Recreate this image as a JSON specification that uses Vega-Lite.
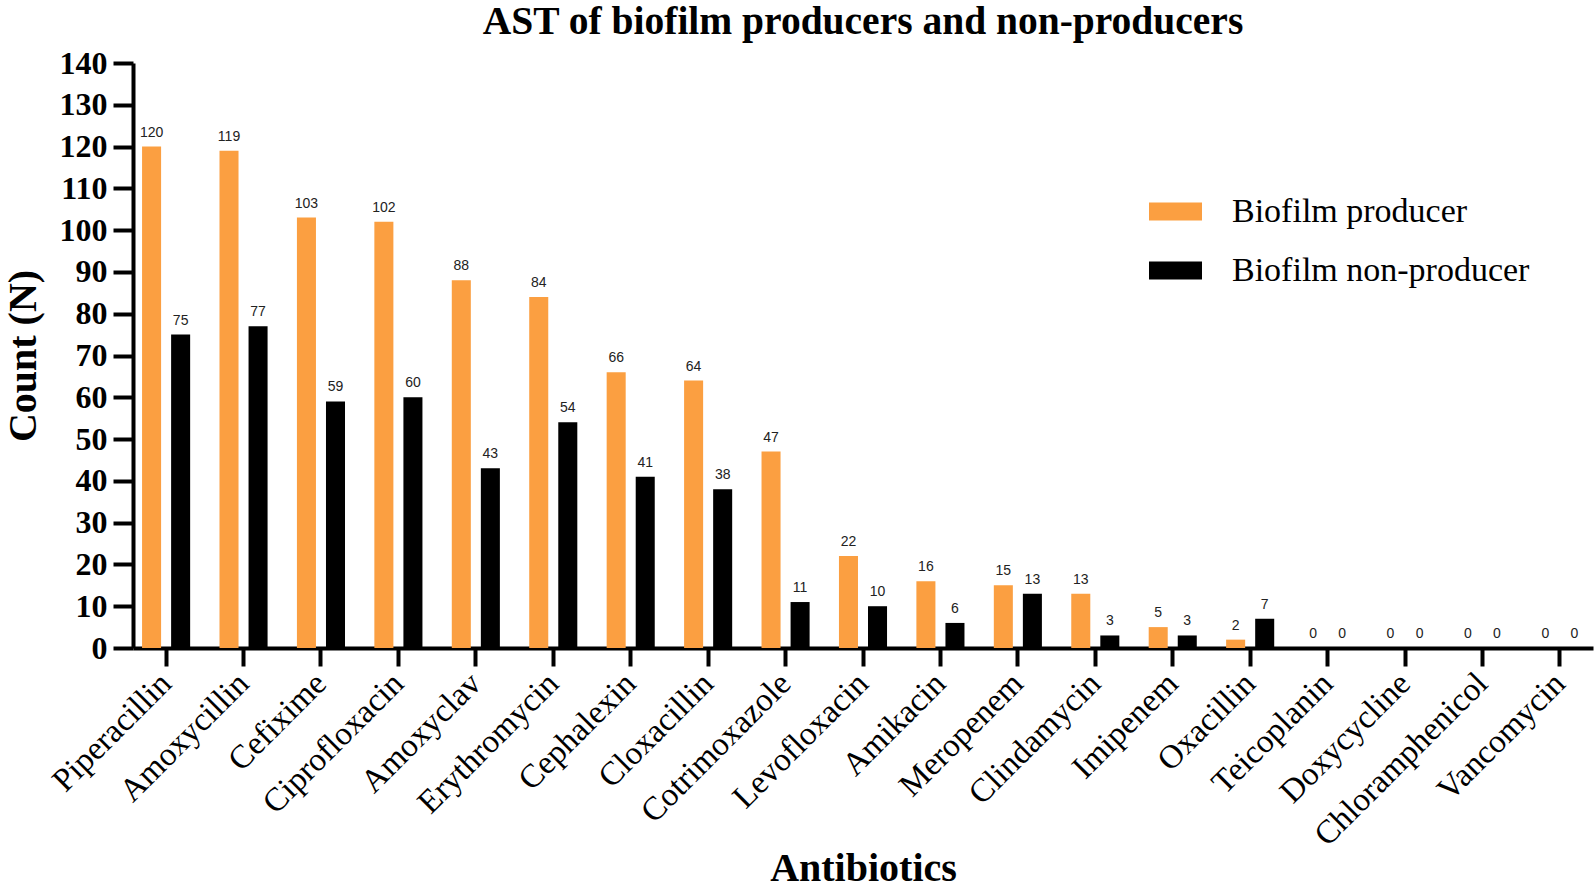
{
  "$schema": "https://vega.github.io/schema/vega-lite/v6.json",
  "width": 1460,
  "height": 585,
  "autosize": {"type": "none"},
  "padding": {"left": 133, "top": 63, "right": 1, "bottom": 240},
  "background": "white",
  "title": {
    "text": "AST of biofilm producers and non-producers",
    "font": "Liberation Serif",
    "fontSize": 39.5,
    "fontWeight": "bold",
    "color": "black",
    "anchor": "middle",
    "offset": 5
  },
  "config": {"view": {"stroke": null}},
  "data": {
    "values": [
      {"Antibiotic": "Piperacillin", "Group": "Biofilm producer", "Count": 120},
      {"Antibiotic": "Piperacillin", "Group": "Biofilm non-producer", "Count": 75},
      {"Antibiotic": "Amoxycillin", "Group": "Biofilm producer", "Count": 119},
      {"Antibiotic": "Amoxycillin", "Group": "Biofilm non-producer", "Count": 77},
      {"Antibiotic": "Cefixime", "Group": "Biofilm producer", "Count": 103},
      {"Antibiotic": "Cefixime", "Group": "Biofilm non-producer", "Count": 59},
      {"Antibiotic": "Ciprofloxacin", "Group": "Biofilm producer", "Count": 102},
      {"Antibiotic": "Ciprofloxacin", "Group": "Biofilm non-producer", "Count": 60},
      {"Antibiotic": "Amoxyclav", "Group": "Biofilm producer", "Count": 88},
      {"Antibiotic": "Amoxyclav", "Group": "Biofilm non-producer", "Count": 43},
      {"Antibiotic": "Erythromycin", "Group": "Biofilm producer", "Count": 84},
      {"Antibiotic": "Erythromycin", "Group": "Biofilm non-producer", "Count": 54},
      {"Antibiotic": "Cephalexin", "Group": "Biofilm producer", "Count": 66},
      {"Antibiotic": "Cephalexin", "Group": "Biofilm non-producer", "Count": 41},
      {"Antibiotic": "Cloxacillin", "Group": "Biofilm producer", "Count": 64},
      {"Antibiotic": "Cloxacillin", "Group": "Biofilm non-producer", "Count": 38},
      {"Antibiotic": "Cotrimoxazole", "Group": "Biofilm producer", "Count": 47},
      {"Antibiotic": "Cotrimoxazole", "Group": "Biofilm non-producer", "Count": 11},
      {"Antibiotic": "Levofloxacin", "Group": "Biofilm producer", "Count": 22},
      {"Antibiotic": "Levofloxacin", "Group": "Biofilm non-producer", "Count": 10},
      {"Antibiotic": "Amikacin", "Group": "Biofilm producer", "Count": 16},
      {"Antibiotic": "Amikacin", "Group": "Biofilm non-producer", "Count": 6},
      {"Antibiotic": "Meropenem", "Group": "Biofilm producer", "Count": 15},
      {"Antibiotic": "Meropenem", "Group": "Biofilm non-producer", "Count": 13},
      {"Antibiotic": "Clindamycin", "Group": "Biofilm producer", "Count": 13},
      {"Antibiotic": "Clindamycin", "Group": "Biofilm non-producer", "Count": 3},
      {"Antibiotic": "Imipenem", "Group": "Biofilm producer", "Count": 5},
      {"Antibiotic": "Imipenem", "Group": "Biofilm non-producer", "Count": 3},
      {"Antibiotic": "Oxacillin", "Group": "Biofilm producer", "Count": 2},
      {"Antibiotic": "Oxacillin", "Group": "Biofilm non-producer", "Count": 7},
      {"Antibiotic": "Teicoplanin", "Group": "Biofilm producer", "Count": 0},
      {"Antibiotic": "Teicoplanin", "Group": "Biofilm non-producer", "Count": 0},
      {"Antibiotic": "Doxycycline", "Group": "Biofilm producer", "Count": 0},
      {"Antibiotic": "Doxycycline", "Group": "Biofilm non-producer", "Count": 0},
      {"Antibiotic": "Chloramphenicol", "Group": "Biofilm producer", "Count": 0},
      {"Antibiotic": "Chloramphenicol", "Group": "Biofilm non-producer", "Count": 0},
      {"Antibiotic": "Vancomycin", "Group": "Biofilm producer", "Count": 0},
      {"Antibiotic": "Vancomycin", "Group": "Biofilm non-producer", "Count": 0}
    ]
  },
  "encoding": {
    "x": {
      "field": "Antibiotic",
      "type": "nominal",
      "sort": null,
      "scale": {"paddingInner": 0.379, "paddingOuter": 0.117},
      "axis": {
        "title": "Antibiotics",
        "titleFont": "Liberation Serif",
        "titleFontSize": 40,
        "titleFontWeight": "bold",
        "titleColor": "black",
        "titleBaseline": "alphabetic",
        "titleY": 232,
        "labelFont": "Liberation Serif",
        "labelFontSize": 33,
        "labelColor": "black",
        "labelAngle": -45,
        "labelAlign": "right",
        "labelBaseline": "middle",
        "labelPadding": 12,
        "labelOverlap": false,
        "labelLimit": 0,
        "domainColor": "black",
        "domainWidth": 4,
        "tickColor": "black",
        "tickWidth": 4,
        "tickSize": 18,
        "grid": false
      }
    },
    "xOffset": {
      "field": "Group",
      "type": "nominal",
      "sort": ["Biofilm producer", "Biofilm non-producer"],
      "scale": {"paddingInner": 0.345, "paddingOuter": 0}
    },
    "y": {
      "field": "Count",
      "type": "quantitative",
      "scale": {"domain": [0, 140], "nice": false},
      "axis": {
        "title": "Count (N)",
        "titleFont": "Liberation Serif",
        "titleFontSize": 40,
        "titleFontWeight": "bold",
        "titleColor": "black",
        "titleX": -110,
        "titleBaseline": "middle",
        "values": [0, 10, 20, 30, 40, 50, 60, 70, 80, 90, 100, 110, 120, 130, 140],
        "labelFont": "Liberation Serif",
        "labelFontSize": 32,
        "labelFontWeight": "bold",
        "labelColor": "black",
        "labelPadding": 6,
        "domainColor": "black",
        "domainWidth": 4,
        "tickColor": "black",
        "tickWidth": 4,
        "tickSize": 20,
        "grid": false
      }
    }
  },
  "layer": [
    {
      "mark": {"type": "bar"},
      "encoding": {
        "color": {
          "field": "Group",
          "type": "nominal",
          "sort": ["Biofilm producer", "Biofilm non-producer"],
          "scale": {"domain": ["Biofilm producer", "Biofilm non-producer"], "range": ["#FB9F41", "#000000"]},
          "legend": {
            "title": null,
            "orient": "none",
            "legendX": 1016,
            "legendY": 122,
            "padding": 0,
            "labelFont": "Liberation Serif",
            "labelFontSize": 34,
            "labelColor": "black",
            "labelOffset": 30,
            "labelLimit": 0,
            "symbolType": "M-1,-0.34L1,-0.34L1,0.34L-1,0.34Z",
            "symbolSize": 2809,
            "symbolStrokeWidth": 0,
            "symbolOpacity": 1,
            "rowPadding": 15
          }
        }
      }
    },
    {
      "mark": {"type": "text", "font": "Liberation Sans", "fontSize": 14, "color": "#222222", "baseline": "alphabetic", "dy": -10},
      "encoding": {
        "text": {"field": "Count", "type": "quantitative"}
      }
    }
  ]
}
